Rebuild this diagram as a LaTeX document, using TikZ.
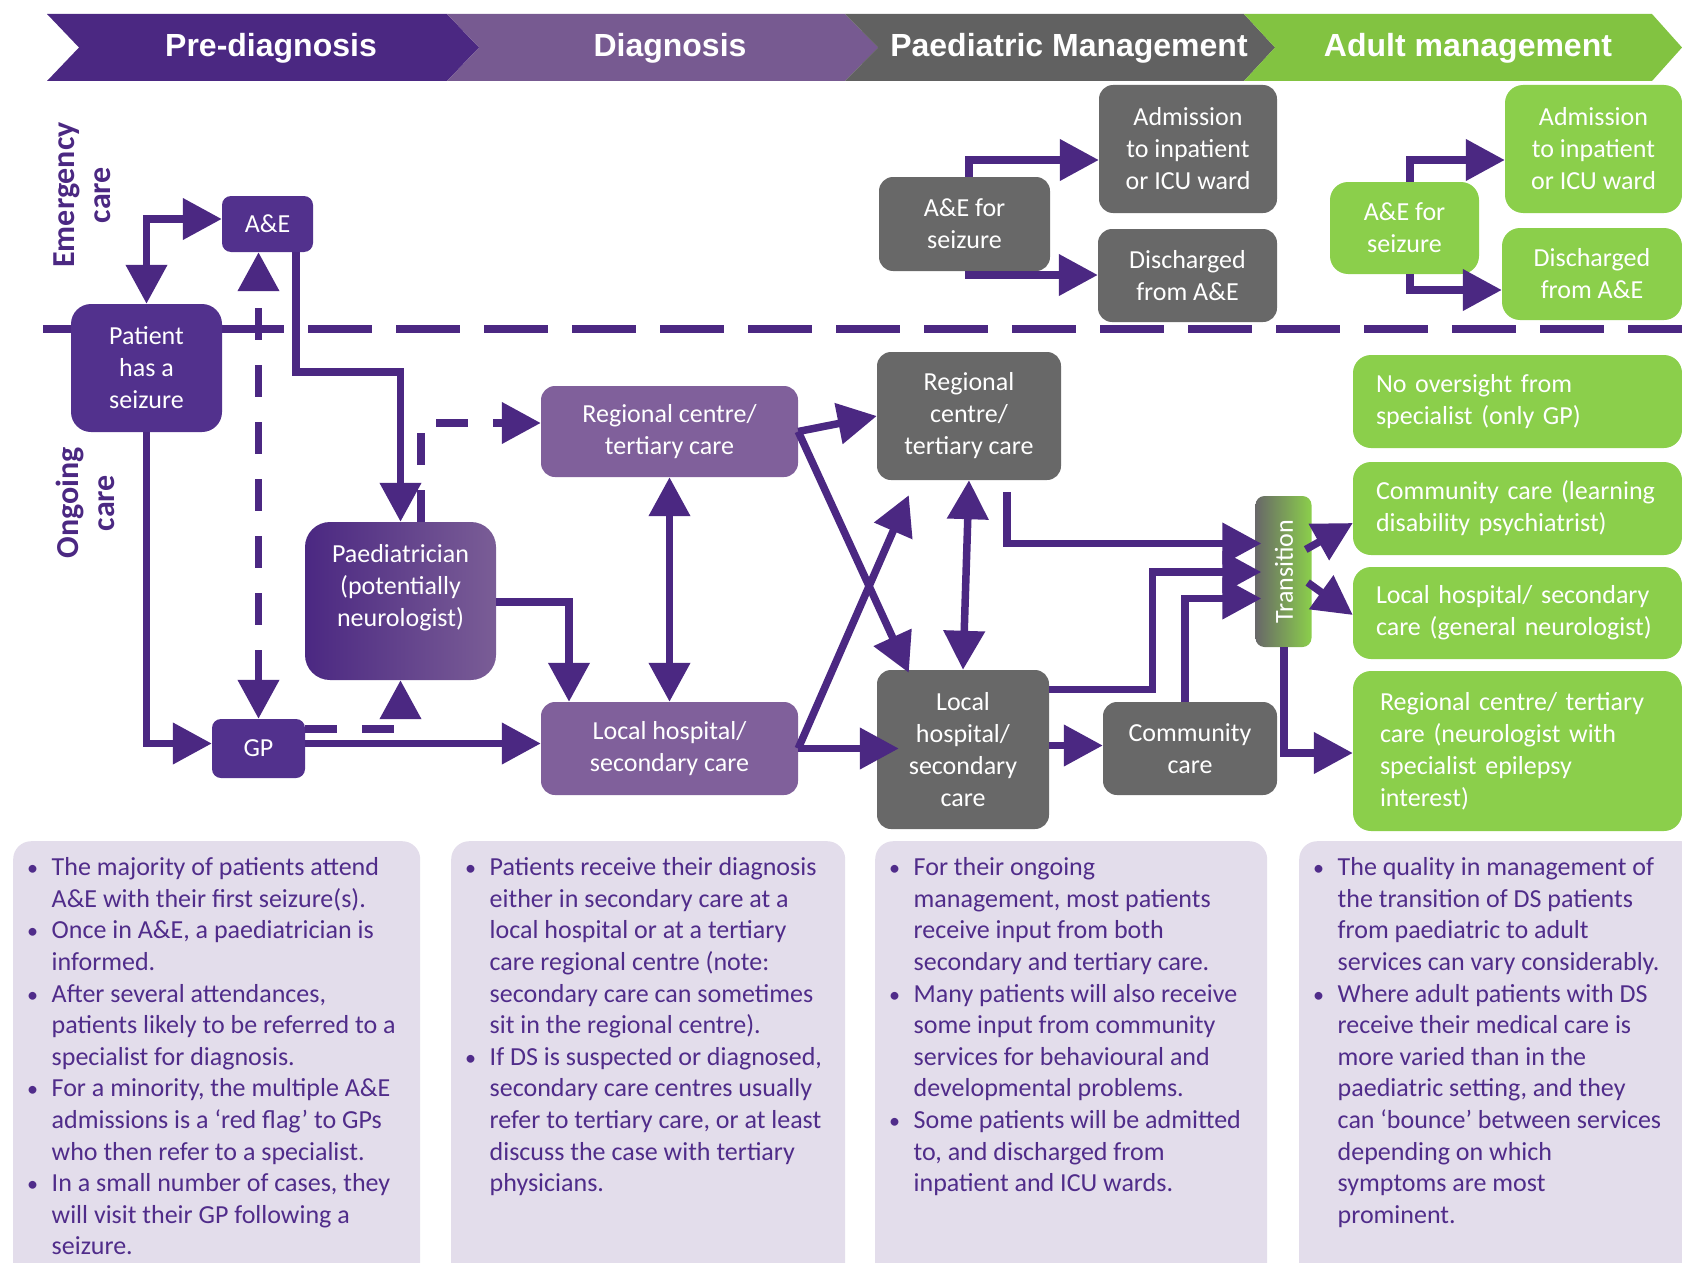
\documentclass[tikz,border=0pt]{standalone}
\usepackage{fontspec}
\setmainfont{Carlito}
\newfontfamily\hdrfont{Liberation Sans}
\usetikzlibrary{arrows.meta}

\definecolor{dpurple}{RGB}{75,40,130}
\definecolor{bpurple}{RGB}{82,49,141}
\definecolor{lpurple}{RGB}{128,96,155}
\definecolor{hpurple}{RGB}{119,90,145}
\definecolor{paedr}{RGB}{122,93,150}
\definecolor{dgray}{RGB}{104,104,104}
\definecolor{hgray}{RGB}{97,97,97}
\definecolor{lgreen}{RGB}{139,207,75}
\definecolor{hgreen}{RGB}{130,195,65}
\definecolor{lav}{RGB}{227,221,235}
\definecolor{txtp}{RGB}{80,44,138}

\newcommand{\nbul}{\makebox[24.5pt][l]{\scalebox{0.85}{\textbullet}}}
\newcommand{\nind}{\hspace*{24.5pt}}

\begin{document}
\begin{tikzpicture}[x=1pt,y=-1pt,
  >={Triangle[length=39pt,width=40pt]},
  box/.style={rectangle, rounded corners=14pt, inner sep=0pt, text=white, align=center, font=\fontsize{26}{32}\selectfont},
  pbox/.style={box, fill=bpurple},
  dbox/.style={box, fill=lpurple},
  gbox/.style={box, fill=dgray},
  grbox/.style={box, fill=lgreen, rounded corners=18pt},
  lbox/.style={grbox, align=left, inner ysep=0pt},
  conn/.style={draw=dpurple, line width=7.5pt},
  dconn/.style={conn, dash pattern=on 32pt off 25pt},
  hdr/.style={font=\hdrfont\bfseries\fontsize{32}{38}\selectfont, text=white, inner sep=0pt},
  side/.style={font=\bfseries\fontsize{32}{36}\selectfont, text=dpurple, align=center, rotate=90, inner sep=0pt},
  notebg/.style={fill=lav, rounded corners=18pt, inner sep=0pt, anchor=north west},
  notetext/.style={anchor=north west, inner sep=0pt, align=left, text=txtp, font=\fontsize{26}{31.6}\selectfont},
]
\useasboundingbox (0,0) rectangle (1682,1263);
\clip (0,0) rectangle (1682,1263);

% header chevrons
\fill[dpurple] (47,14) -- (447,14) -- (479,47.5) -- (447,81) -- (47,81) -- (79,47.5) -- cycle;
\fill[hpurple] (447,14) -- (845,14) -- (878,47.5) -- (845,81) -- (447,81) -- (479,47.5) -- cycle;
\fill[hgray] (845,14) -- (1244,14) -- (1275,47.5) -- (1244,81) -- (845,81) -- (878,47.5) -- cycle;
\fill[hgreen] (1244,14) -- (1652,14) -- (1682,47.5) -- (1652,81) -- (1244,81) -- (1275,47.5) -- cycle;
\node[hdr] (h1) at (271,48) {Pre-diagnosis};
\node[hdr] (h2) at (670,48) {Diagnosis};
\node[hdr] (h3) at (1069,48) {Paediatric Management};
\node[hdr] (h4) at (1468,48) {Adult management};

% side labels
\node[side] (emer) at (82,195) {Emergency\\care};
\node[side] (ong) at (85,503) {Ongoing\\care};

% separator
\draw[dpurple, line width=8pt] (43,329) -- (284,329);
\draw[dpurple, line width=8pt, dash pattern=on 64pt off 24pt] (308,329) -- (1682,329);

% pre-diagnosis nodes
\node[pbox, rounded corners=9pt, minimum width=91pt, minimum height=56pt] (aae) at (267.5,224) {A\&E};
\node[pbox, rounded corners=20pt, minimum width=151pt, minimum height=128pt] (pat) at (146.5,368) {Patient\\has a\\seizure};
\node[pbox, rounded corners=9pt, minimum width=93pt, minimum height=59pt] (gp) at (258.5,748.5) {GP};
\node[box, rounded corners=25pt, left color=dpurple, right color=paedr, minimum width=191pt, minimum height=158pt] (paed) at (400.5,601) {};
\node[box] (paedtxt) at (400.5,588) {Paediatrician\\(potentially\\neurologist)};

% diagnosis nodes
\node[dbox, minimum width=257pt, minimum height=91pt] (rc1) at (669.5,431.5) {Regional centre/\\tertiary care};
\node[dbox, minimum width=257pt, minimum height=93pt] (lh1) at (669.5,748.5) {Local hospital/\\secondary care};

% paediatric nodes
\node[gbox, minimum width=184pt, minimum height=128pt] (rc2) at (969,416) {Regional\\centre/\\tertiary care};
\node[gbox, minimum width=172pt, minimum height=159pt] (lh2) at (963,749.5) {Local\\hospital/\\secondary\\care};
\node[gbox, minimum width=174pt, minimum height=93pt] (cc) at (1190,748.5) {Community\\care};
\node[gbox, minimum width=171pt, minimum height=94pt] (ae2) at (964.5,224) {A\&E for\\seizure};
\node[gbox, minimum width=178pt, minimum height=128pt] (adm2) at (1188,149) {Admission\\to inpatient\\or ICU ward};
\node[gbox, minimum width=179pt, minimum height=93pt] (dis2) at (1187.5,275.5) {Discharged\\from A\&E};

% adult nodes
\node[grbox, minimum width=149pt, minimum height=92pt] (ae3) at (1404.5,228) {A\&E for\\seizure};
\node[grbox, minimum width=177pt, minimum height=128pt] (adm3) at (1593.5,149) {Admission\\to inpatient\\or ICU ward};
\node[grbox, minimum width=180pt, minimum height=92pt] (dis3) at (1592,274) {Discharged\\from A\&E};
\node[lbox, text width=283pt, inner xsep=23pt, minimum height=93pt] (g1) at (1517.5,401.5) {No oversight from\\specialist (only GP)};
\node[lbox, text width=283pt, inner xsep=23pt, minimum height=93pt] (g2) at (1517.5,508.5) {Community care (learning\\disability psychiatrist)};
\node[lbox, text width=283pt, inner xsep=23pt, minimum height=92pt] (g3) at (1517.5,613) {Local hospital/ secondary\\care (general neurologist)};
\node[lbox, text width=275pt, inner xsep=27pt, minimum height=160pt] (g4) at (1517.5,751) {Regional centre/ tertiary\\care (neurologist with\\specialist epilepsy\\interest)};

% transition
\node[box, rounded corners=9pt, left color=dgray, right color=lgreen, minimum width=56pt, minimum height=151pt] (tr) at (1283.5,571.5) {};
\node[box, rotate=90] (trtxt) at (1284,571.5) {Transition};

% connectors
\draw[conn, <->] (pat.north) |- ([yshift=5pt]aae.west);
\draw[dconn, <->] (gp.north) -- (gp.north |- aae.south);
\draw[conn, ->] (pat.south) |- ([yshift=5pt]gp.west);
\draw[conn, ->] ([xshift=28.5pt]aae.south) -- ++(0,120) -| (paed.north);
\draw[dconn, ->] ([xshift=20.5pt]paed.north) |- ([yshift=8.5pt]rc1.west);
\draw[dconn, ->] ([yshift=19.5pt]gp.east) -| (paed.south);
\draw[conn, ->] ([yshift=5pt]gp.east) -- ([yshift=5pt]gp.east -| lh1.west);
\draw[conn, ->] ([yshift=-1pt]paed.east) -| ([xshift=-100.5pt]lh1.north);
\draw[conn, <->] (rc1.south) -- (lh1.north);
\draw[conn, ->] (rc1.east) -- (rc2.west);
\draw[conn, ->] (rc1.east) -- ([xshift=32pt,yshift=-3pt]lh2.north west);
\draw[conn, ->] (lh1.east) -- ([xshift=32pt,yshift=-15pt]rc2.south west);
\draw[conn, ->] (lh1.east) -- ([xshift=22pt]lh1.east -| lh2.west);
\draw[conn, <->] (rc2.south) -- (lh2.north);
\draw[conn, ->] ([xshift=-54pt,yshift=-12pt]rc2.south east) |- ([xshift=6pt,yshift=28pt]tr.west);
\draw[conn, ->] ([yshift=-19.5pt]lh2.north east) -| ([xshift=-103pt,yshift=-0.5pt]tr.west) -- ([xshift=6pt,yshift=-0.5pt]tr.west);
\draw[conn, ->] ([xshift=-5pt]cc.north) |- ([xshift=6pt,yshift=-27pt]tr.west);
\draw[conn, ->] ([yshift=4pt]lh2.east) -- ([yshift=4pt]lh2.east -| cc.west);
\draw[conn, ->] ([xshift=-6pt,yshift=22pt]tr.east) -- ([yshift=-14.5pt]g2.west);
\draw[conn, ->] ([xshift=-4pt,yshift=-11pt]tr.east) -- ([yshift=-2pt]g3.west);
\draw[conn, ->] ([xshift=0.5pt]tr.south) |- ([yshift=-2pt]g4.west);
\draw[conn, ->] ([xshift=4.5pt]ae2.north) |- ([yshift=-11pt]adm2.west);
\draw[conn, ->] ([xshift=4.5pt]ae2.south) |- ([yshift=0.5pt]dis2.west);
\draw[conn, ->] ([xshift=5.5pt]ae3.north) |- ([yshift=-11pt]adm3.west);
\draw[conn, ->] ([xshift=5.5pt]ae3.south) |- ([yshift=-16pt]dis3.west);

% bottom notes
\node[notebg, minimum width=407pt, minimum height=460pt] (nb1) at (13,841) {};
\node[notebg, minimum width=394pt, minimum height=460pt] (nb2) at (451,841) {};
\node[notebg, minimum width=392pt, minimum height=460pt] (nb3) at (875,841) {};
\node[notebg, minimum width=400pt, minimum height=460pt] (nb4) at (1299,841) {};

\node[notetext] (t1) at (27,857.5) {\nbul The majority of patients attend\\
\nind A\&E with their first seizure(s).\\
\nbul Once in A\&E, a paediatrician is\\
\nind informed.\\
\nbul After several attendances,\\
\nind patients likely to be referred to a\\
\nind specialist for diagnosis.\\
\nbul For a minority, the multiple A\&E\\
\nind admissions is a ‘red flag’ to GPs\\
\nind who then refer to a specialist.\\
\nbul In a small number of cases, they\\
\nind will visit their GP following a\\
\nind seizure.};

\node[notetext] (t2) at (465,857.5) {\nbul Patients receive their diagnosis\\
\nind either in secondary care at a\\
\nind local hospital or at a tertiary\\
\nind care regional centre (note:\\
\nind secondary care can sometimes\\
\nind sit in the regional centre).\\
\nbul If DS is suspected or diagnosed,\\
\nind secondary care centres usually\\
\nind refer to tertiary care, or at least\\
\nind discuss the case with tertiary\\
\nind physicians.};

\node[notetext] (t3) at (889,857.5) {\nbul For their ongoing\\
\nind management, most patients\\
\nind receive input from both\\
\nind secondary and tertiary care.\\
\nbul Many patients will also receive\\
\nind some input from community\\
\nind services for behavioural and\\
\nind developmental problems.\\
\nbul Some patients will be admitted\\
\nind to, and discharged from\\
\nind inpatient and ICU wards.};

\node[notetext] (t4) at (1313,857.5) {\nbul The quality in management of\\
\nind the transition of DS patients\\
\nind from paediatric to adult\\
\nind services can vary considerably.\\
\nbul Where adult patients with DS\\
\nind receive their medical care is\\
\nind more varied than in the\\
\nind paediatric setting, and they\\
\nind can ‘bounce’ between services\\
\nind depending on which\\
\nind symptoms are most\\
\nind prominent.};
\end{tikzpicture}
\end{document}
